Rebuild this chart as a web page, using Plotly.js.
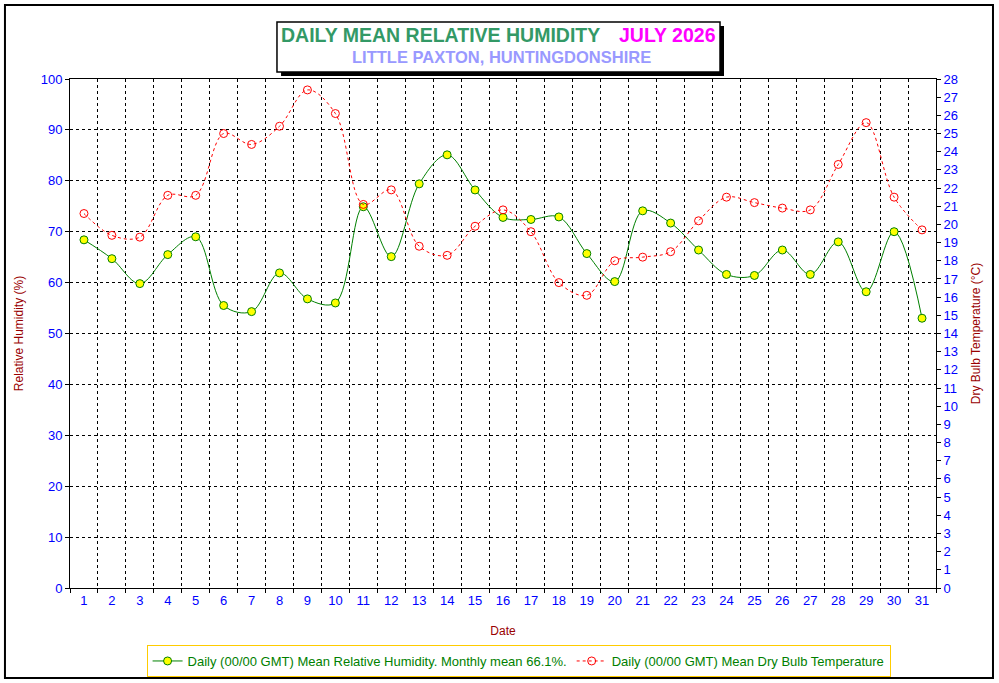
<!DOCTYPE html>
<html>
<head>
<meta charset="utf-8">
<script src="https://cdn.plot.ly/plotly-3.0.1.min.js"></script>
<style>
body { margin: 0; background: #ffffff; }
#chart { width: 999px; height: 683px; }
</style>
</head>
<body>
<div id="chart"></div>
<script>
// days of July 2026
var days = [1, 2, 3, 4, 5, 6, 7, 8, 9, 10, 11, 12, 13, 14, 15, 16,
            17, 18, 19, 20, 21, 22, 23, 24, 25, 26, 27, 28, 29, 30, 31];

// daily mean relative humidity (%)
var humidity = [68.4, 64.7, 59.8, 65.5, 69.0, 55.5, 54.3, 61.9, 56.8, 56.0,
                74.9, 65.1, 79.4, 85.1, 78.2, 72.8, 72.4, 72.9, 65.7, 60.2,
                74.1, 71.7, 66.4, 61.6, 61.4, 66.4, 61.6, 68.0, 58.2, 70.0, 53.0];

// daily mean dry bulb temperature (C)
var temperature = [20.6, 19.4, 19.3, 21.6, 21.6, 25.0, 24.4, 25.4, 27.4, 26.1,
                   21.1, 21.9, 18.8, 18.3, 19.9, 20.8, 19.6, 16.8, 16.1, 18.0,
                   18.2, 18.5, 20.2, 21.5, 21.2, 20.9, 20.8, 23.3, 25.6, 21.5, 19.7];

var humidityName = 'Daily (00/00 GMT) Mean Relative Humidity. Monthly mean 66.1%.';
var tempName = 'Daily (00/00 GMT) Mean Dry Bulb Temperature';

var trace1 = {
    x: days,
    y: humidity,
    name: humidityName,
    type: 'scatter',
    mode: 'lines+markers',
    line: {color: '#008000', width: 1, shape: 'spline', smoothing: 1},
    marker: {symbol: 'circle', size: 8, color: '#ffff00', line: {color: '#008000', width: 1}}
};
var trace2 = {
    x: days,
    y: temperature,
    name: tempName,
    type: 'scatter',
    mode: 'lines+markers',
    yaxis: 'y2',
    line: {color: '#ff0000', width: 1, dash: '3px,3px', shape: 'spline', smoothing: 1},
    marker: {symbol: 'circle-open', size: 8, color: '#ff0000', line: {width: 1}}
};
// empty trace so the half-day grid axis gets drawn
var gridTrace = {
    x: [], y: [], xaxis: 'x2', type: 'scatter', mode: 'lines',
    showlegend: false, hoverinfo: 'skip'
};

var tickFont = {family: 'Liberation Sans, Arial, sans-serif', size: 13, color: '#0000ff'};
var labelFont = {family: 'Liberation Sans, Arial, sans-serif', size: 12, color: '#990000'};

var layout = {
    width: 999,
    height: 683,
    margin: {l: 70, r: 63, t: 79, b: 95, autoexpand: false},
    paper_bgcolor: '#ffffff',
    plot_bgcolor: '#ffffff',
    showlegend: true,
    xaxis: {
        range: [0.5, 31.5],
        tickvals: days,
        ticktext: days.map(String),
        ticks: '',
        showgrid: false,
        zeroline: false,
        showline: true,
        mirror: true,
        linecolor: '#000000',
        linewidth: 1,
        automargin: false,
        tickfont: tickFont,
        title: {text: 'Date', font: labelFont, standoff: 20}
    },
    xaxis2: {
        overlaying: 'x',
        anchor: 'y',
        side: 'bottom',
        range: [0.5, 31.5],
        tick0: 0.5,
        dtick: 1,
        ticks: 'outside',
        ticklen: 4,
        tickcolor: '#000000',
        showticklabels: false,
        showgrid: true,
        gridcolor: '#000000',
        gridwidth: 1,
        griddash: '3px,3px',
        zeroline: false,
        showline: false,
        automargin: false
    },
    yaxis: {
        range: [0, 100],
        dtick: 10,
        ticks: 'outside',
        ticklen: 4,
        tickcolor: '#000000',
        showgrid: true,
        gridcolor: '#000000',
        gridwidth: 1,
        griddash: '3px,3px',
        zeroline: false,
        showline: true,
        linecolor: '#000000',
        automargin: false,
        tickfont: tickFont,
        title: {text: 'Relative Humidity (%)', font: labelFont, standoff: 14}
    },
    yaxis2: {
        overlaying: 'y',
        side: 'right',
        range: [0, 28],
        dtick: 1,
        ticks: 'outside',
        ticklen: 4,
        tickcolor: '#000000',
        showgrid: false,
        zeroline: false,
        showline: true,
        linecolor: '#000000',
        automargin: false,
        tickfont: tickFont,
        title: {text: 'Dry Bulb Temperature (\u00b0C)', font: labelFont, standoff: 14}
    },
    legend: {
        orientation: 'h',
        x: 0.518,
        xanchor: 'center',
        y: -0.112,
        yanchor: 'top',
        bordercolor: '#ffcc00',
        borderwidth: 1,
        bgcolor: '#ffffff',
        font: {family: 'Liberation Sans Narrow, Arial Narrow, sans-serif', size: 13, color: '#008000'},
        itemwidth: 30,
        tracegroupgap: 0
    },
    shapes: [
        // outer frame
        {type: 'rect', xref: 'paper', yref: 'paper', x0: -0.0751, x1: 1.0658, y0: -0.1768, y1: 1.1454,
         line: {color: '#000000', width: 2}, fillcolor: 'rgba(0,0,0,0)', layer: 'below'},
        // title box shadow
        {type: 'rect', xref: 'paper', yref: 'paper', x0: 0.2437, x1: 0.7552, y0: 1.0059, y1: 1.1041,
         line: {width: 0}, fillcolor: '#000000', layer: 'above'},
        // title box
        {type: 'rect', xref: 'paper', yref: 'paper', x0: 0.2390, x1: 0.7506, y0: 1.0138, y1: 1.1120,
         line: {color: '#000000', width: 1.5}, fillcolor: '#ffffff', layer: 'above'}
    ],
    annotations: [
        {xref: 'paper', yref: 'paper', x: 0.4273, y: 1.0865, xanchor: 'center', yanchor: 'middle',
         showarrow: false, text: 'DAILY MEAN RELATIVE HUMIDITY',
         font: {family: 'Liberation Sans, Arial, sans-serif', size: 19.5, color: '#339966', weight: 'bold'}},
        {xref: 'paper', yref: 'paper', x: 0.6894, y: 1.0865, xanchor: 'center', yanchor: 'middle',
         showarrow: false, text: 'JULY 2026',
         font: {family: 'Liberation Sans, Arial, sans-serif', size: 19.5, color: '#ff00ff', weight: 'bold'}},
        {xref: 'paper', yref: 'paper', x: 0.4977, y: 1.0432, xanchor: 'center', yanchor: 'middle',
         showarrow: false, text: 'LITTLE PAXTON, HUNTINGDONSHIRE',
         font: {family: 'Liberation Sans, Arial, sans-serif', size: 16.5, color: '#9999ff', weight: 'bold'}}
    ]
};

Plotly.newPlot('chart', [trace1, trace2, gridTrace], layout, {displayModeBar: false, staticPlot: true});
</script>
</body>
</html>
